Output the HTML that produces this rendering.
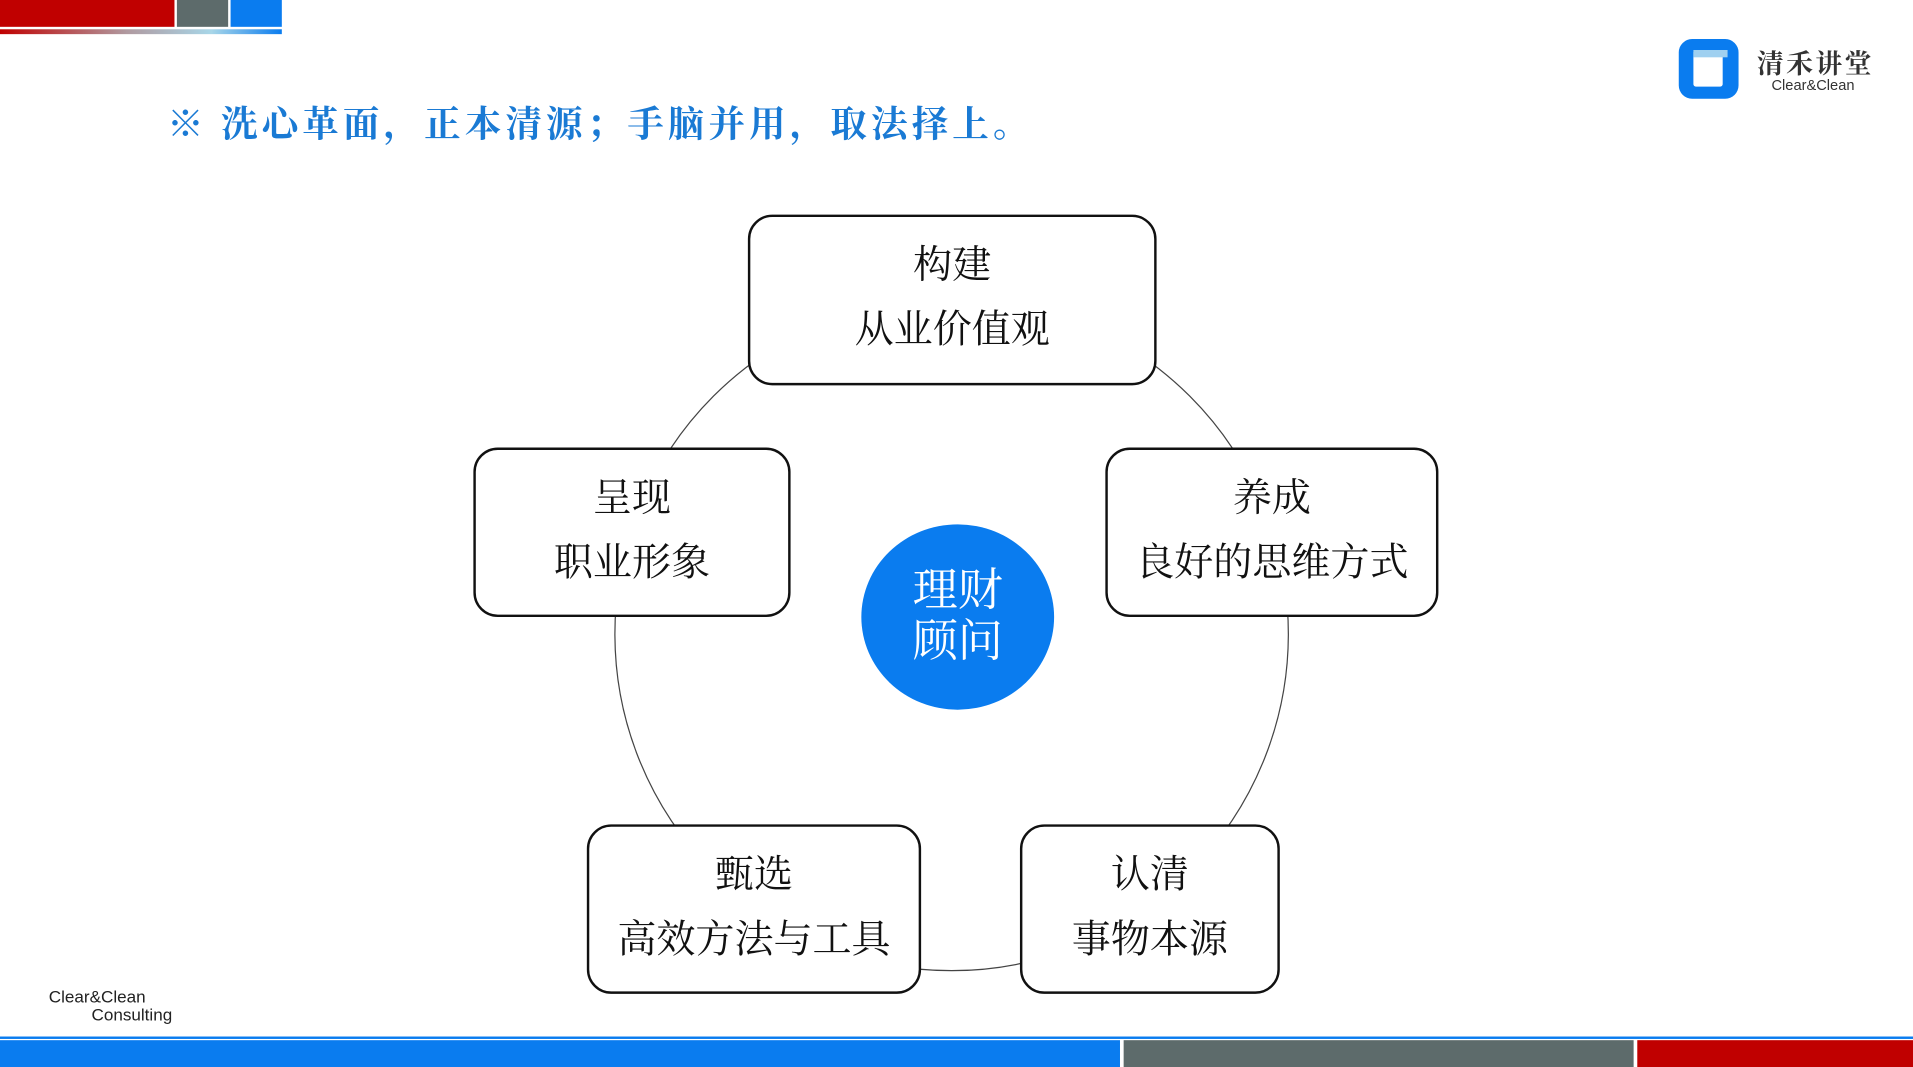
<!DOCTYPE html>
<html><head><meta charset="utf-8"><style>
html,body{margin:0;padding:0;width:1913px;height:1067px;overflow:hidden;background:#fff}
#s{position:absolute;left:0;top:0;width:1568px;height:875px;transform:scale(1.22003,1.21943);transform-origin:0 0;font-family:"Liberation Serif","Noto Serif CJK SC",serif}
.a{position:absolute}
.box{position:absolute;border:2px solid #111;border-radius:20px;background:#fff;box-sizing:border-box;text-align:center;font-size:32px;color:#111;line-height:53px;padding-top:13px}
</style></head><body><div id="s">
<div class="a" style="left:0;top:0;width:143px;height:22px;background:#c00000"></div>
<div class="a" style="left:145px;top:0;width:42px;height:22px;background:#5d6b6b"></div>
<div class="a" style="left:189px;top:0;width:42px;height:22px;background:#0a7cef"></div>
<div class="a" style="left:0;top:24px;width:231px;height:4px;background:linear-gradient(90deg,#c00000,#b09aa0 45%,#a8d6e8 75%,#0a7cef)"></div>
<div class="a" style="left:137px;top:77px;font-size:30px;font-weight:bold;color:#1a7ad4;white-space:nowrap;letter-spacing:3.3px">※ 洗心革面，正本清源；手脑并用，取法择上。</div>
<div class="a" style="left:1376px;top:32px;width:49px;height:49px;border-radius:11px;background:#0a7cef"></div>
<div class="a" style="left:1388px;top:41px;width:24px;height:30px;background:#fff;border-radius:2px"></div>
<div class="a" style="left:1388px;top:41px;width:28px;height:6px;background:#9fd0f0"></div>
<div class="a" style="left:1440px;top:36px;font-size:22px;font-weight:bold;color:#333;letter-spacing:2px;white-space:nowrap">清禾讲堂</div>
<div class="a" style="left:1452px;top:63px;font-family:'Liberation Sans',sans-serif;font-size:12px;color:#333">Clear&amp;Clean</div>
<svg class="a" style="left:0;top:0" width="1568" height="875"><circle cx="780" cy="520" r="276" fill="none" stroke="#444" stroke-width="1"/></svg>
<div class="box" style="left:613px;top:176px;width:335px;height:140px">构建<br>从业价值观</div>
<div class="box" style="left:388px;top:367px;width:260px;height:139px">呈现<br>职业形象</div>
<div class="box" style="left:906px;top:367px;width:273px;height:139px">养成<br>良好的思维方式</div>
<div class="box" style="left:481px;top:676px;width:274px;height:139px">甄选<br>高效方法与工具</div>
<div class="box" style="left:836px;top:676px;width:213px;height:139px">认清<br>事物本源</div>
<div class="a" style="left:706px;top:430px;width:158px;height:152px;border-radius:50%;background:#0a7cef;color:#fff;font-size:37px;line-height:42px;text-align:center;box-sizing:border-box;padding-top:34px">理财<br>顾问</div>
<div class="a" style="left:40px;top:810px;font-family:'Liberation Sans',sans-serif;font-size:14px;color:#222;line-height:15px">Clear&amp;Clean<br><span style="padding-left:35px">Consulting</span></div>
<div class="a" style="left:0;top:850px;width:1568px;height:2px;background:#0a7cef"></div>
<div class="a" style="left:0;top:853px;width:918px;height:22px;background:#0a7cef"></div>
<div class="a" style="left:921px;top:853px;width:418px;height:22px;background:#5d6b6b"></div>
<div class="a" style="left:1342px;top:853px;width:226px;height:22px;background:#c00000"></div>
</div></body></html>
